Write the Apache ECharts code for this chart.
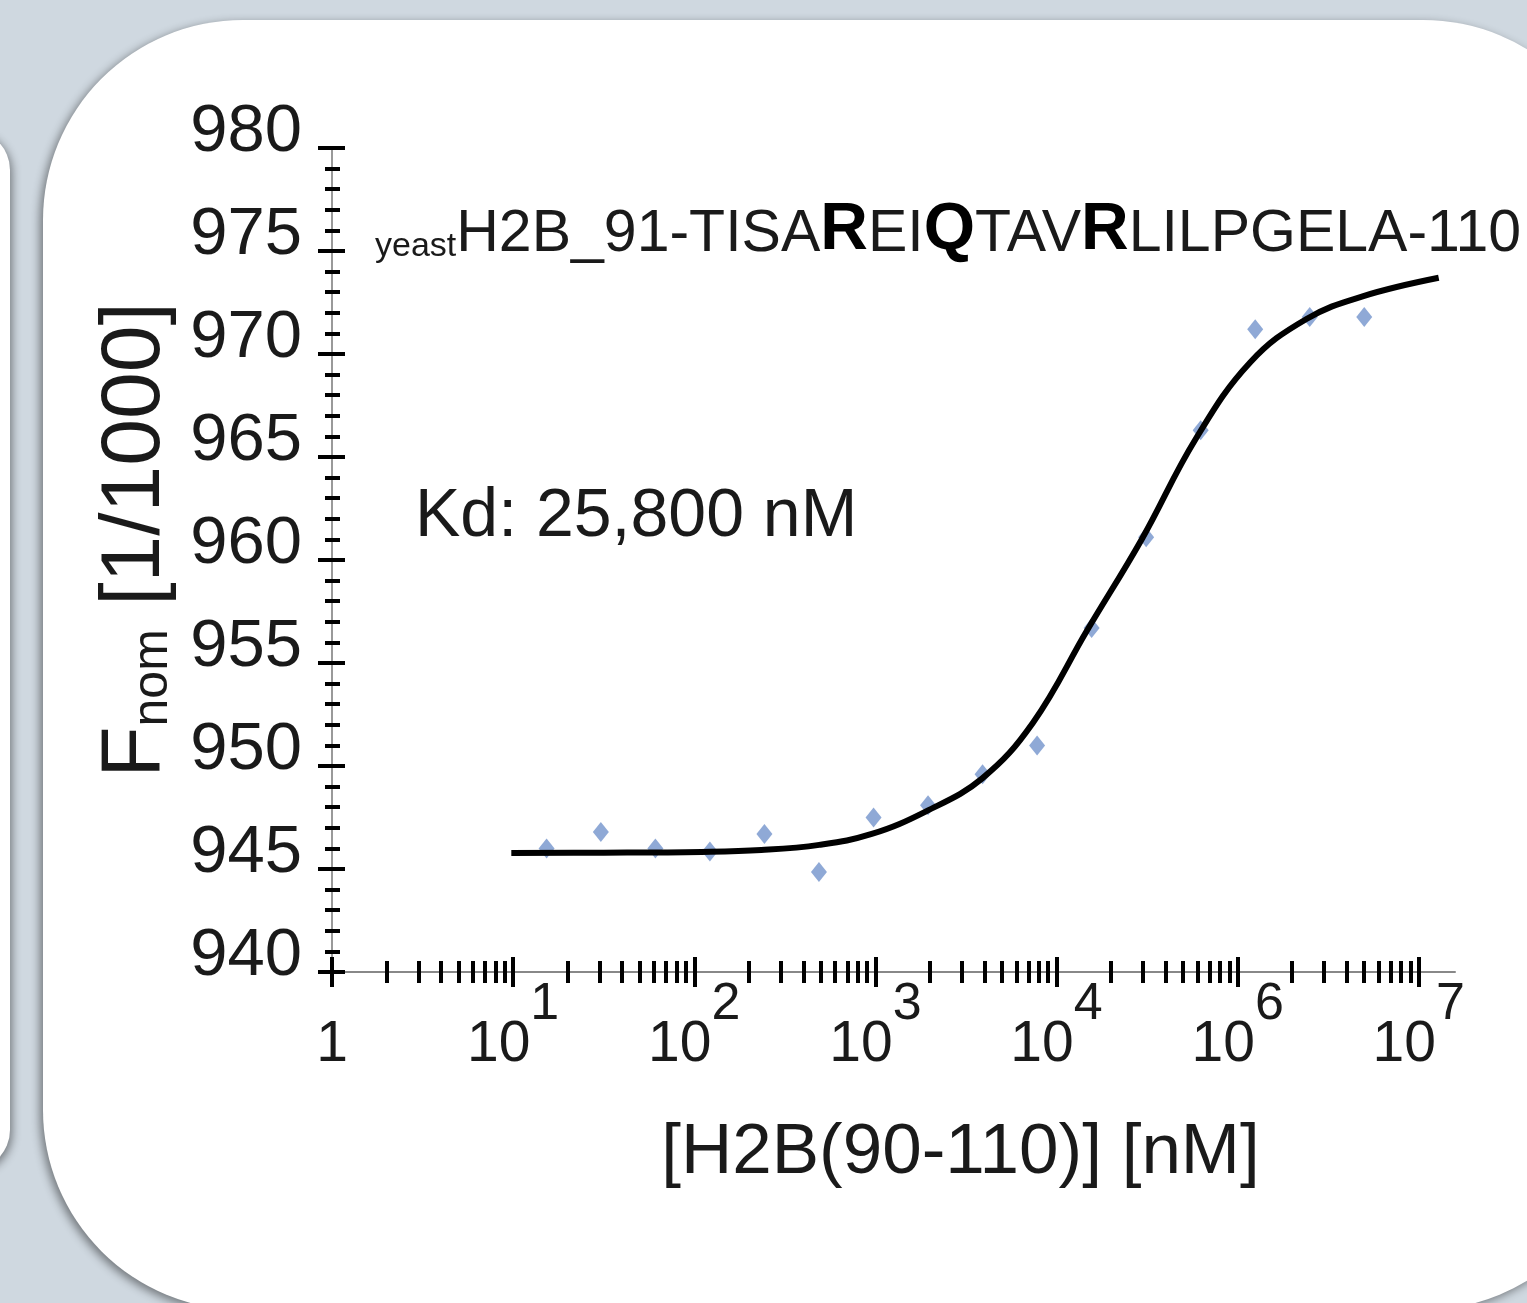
<!DOCTYPE html>
<html>
<head>
<meta charset="utf-8">
<script src="https://cdn.jsdelivr.net/npm/echarts@6/dist/echarts.min.js"></script>
<style>
  html, body { margin: 0; padding: 0; background: #cfd8e0; }
  #chart { width: 1527px; height: 1303px; }
</style>
</head>
<body>
<div id="chart"></div>
<script>
    // MST binding curve, yeast H2B 91-110
    var concNM = [15.3, 30.5, 61, 122, 244, 488, 977, 1953, 3906, 7813, 15625, 31250, 62500, 125000, 250000, 500000];
    var fnorm = [946.0, 946.8, 946.0, 945.85, 946.7, 944.85, 947.5, 948.1, 949.6, 951.0, 956.7, 961.1, 966.3, 971.2, 971.8, 971.8];

    // fitted curve, x as log10 of concentration
    var fitLogConc = [0.99, 1.5, 2.04, 2.37, 2.69, 2.98, 3.28, 3.59, 3.87, 4.17, 4.47, 4.77, 5.07, 5.38, 5.69, 6.11];
    var fitValue = [945.78, 945.79, 945.83, 945.92, 946.17, 946.7, 947.8, 949.4, 952.1, 956.6, 961.0, 965.9, 969.6, 971.7, 972.8, 973.7];

    var decadeTicks = [0, 1, 2, 3, 4, 5, 6];
    var decadeLabels = ['{b|1}', '{b|10}{s|1}', '{b|10}{s|2}', '{b|10}{s|3}', '{b|10}{s|4}', '{b|10}{s|6}', '{b|10}{s|7}'];

    var FONT = 'Liberation Sans, Arial, sans-serif';
    var INK = '#1a1a1a';

    var minorTicks = [];
    for (var d = 0; d < 6; d++) {
        for (var k = 2; k < 10; k++) minorTicks.push(d + Math.log10(k));
    }

    var chart = echarts.init(document.getElementById('chart'));

    function xAxisBase(extra) {
        var ax = {
            type: 'value', position: 'bottom', min: 0, max: 6.2,
            axisLine: {onZero: false, show: false},
            splitLine: {show: false},
            axisLabel: {show: false},
            axisTick: {show: false}
        };
        return Object.assign(ax, extra);
    }

    var option = {
        backgroundColor: 'transparent',
        animation: false,
        graphic: [
            {type: 'rect', z: -10, shape: {x: -300, y: 130, width: 310, height: 1040, r: 40},
                style: {fill: '#fff', shadowBlur: 10, shadowOffsetX: 2, shadowOffsetY: 3, shadowColor: 'rgba(0,0,0,0.45)'}},
            {type: 'rect', z: -10, shape: {x: 43, y: 20, width: 1580, height: 1290, r: 200},
                style: {fill: '#fff', shadowBlur: 10, shadowOffsetX: -3, shadowOffsetY: 3, shadowColor: 'rgba(0,0,0,0.45)'}}
        ],
        title: [
            {
                text: '{s|yeast}{n|H2B_91-TISA}{b|R}{n|EI}{b|Q}{n|TAV}{b|R}{n|LILPGELA-110}',
                left: 370, top: 197,
                textStyle: {
                    fontWeight: 'normal',
                    rich: {
                        s: {fontSize: 34, fontFamily: FONT, fontWeight: 'normal', color: INK, lineHeight: 22, verticalAlign: 'bottom'},
                        n: {fontSize: 59, fontFamily: FONT, fontWeight: 'normal', color: INK, lineHeight: 58, verticalAlign: 'bottom'},
                        b: {fontSize: 66, fontFamily: FONT, fontWeight: 'bold', color: '#000', lineHeight: 62, verticalAlign: 'bottom'}
                    }
                }
            },
            {
                text: 'Kd: 25,800 nM',
                left: 410, top: 478,
                textStyle: {fontSize: 68, fontFamily: FONT, color: INK, fontWeight: 'normal'}
            }
        ],
        grid: {left: 332, right: 72, top: 148, bottom: 331, containLabel: false},
        xAxis: [
            xAxisBase({
                axisLine: {onZero: false, show: true, lineStyle: {color: '#888', width: 2}},
                axisTick: {show: true, customValues: decadeTicks, length: 15, lineStyle: {color: '#000', width: 4}},
                axisLabel: {
                    show: true, customValues: decadeTicks, margin: 7,
                    formatter: function (v) { return decadeLabels[Math.round(v)]; },
                    rich: {
                        b: {fontSize: 57, fontFamily: FONT, color: INK, lineHeight: 56, padding: [76, 0, 0, 0]},
                        s: {fontSize: 52, fontFamily: FONT, color: INK, lineHeight: 56, verticalAlign: 'top'}
                    }
                },
                name: '[H2B(90-110)] [nM]',
                nameLocation: 'middle', nameGap: 146,
                nameTextStyle: {fontSize: 71, fontFamily: FONT, color: INK, padding: [0, 0, 0, 134]}
            }),
            xAxisBase({axisTick: {show: true, inside: true, customValues: decadeTicks, length: 15, lineStyle: {color: '#000', width: 4}}}),
            xAxisBase({axisTick: {show: true, customValues: minorTicks, length: 11, lineStyle: {color: '#000', width: 4}}}),
            xAxisBase({axisTick: {show: true, inside: true, customValues: minorTicks, length: 11, lineStyle: {color: '#000', width: 4}}})
        ],
        yAxis: [
            {
                type: 'value', position: 'left', min: 940, max: 980, interval: 5,
                axisLine: {show: true, lineStyle: {color: '#999', width: 2}},
                axisTick: {show: true, length: 14, lineStyle: {color: '#000', width: 4}},
                minorTick: {show: true, splitNumber: 5, length: 7, lineStyle: {color: '#000', width: 4}},
                splitLine: {show: false},
                axisLabel: {margin: 30, fontSize: 67, fontFamily: FONT, color: INK, verticalAlign: 'bottom', lineHeight: 30},
                name: '{n|F}{sub|nom}{n| [1/1000]}',
                nameLocation: 'middle', nameRotate: 90, nameGap: 154,
                nameTextStyle: {
                    padding: [0, 0, 0, 40],
                    rich: {
                        n: {fontSize: 84, fontFamily: FONT, color: INK, lineHeight: 80, verticalAlign: 'bottom'},
                        sub: {fontSize: 50, fontFamily: FONT, color: INK, lineHeight: 30, verticalAlign: 'bottom'}
                    }
                }
            },
            {
                type: 'value', position: 'left', min: 940, max: 980, interval: 5,
                axisLine: {show: false},
                axisTick: {show: true, inside: true, length: 13, lineStyle: {color: '#000', width: 4}},
                minorTick: {show: true, splitNumber: 5, length: 8, lineStyle: {color: '#000', width: 4}},
                splitLine: {show: false},
                axisLabel: {show: false}
            }
        ],
        series: [
            {
                name: 'data',
                type: 'scatter',
                xAxisIndex: 0, yAxisIndex: 0,
                symbol: 'diamond',
                symbolSize: [16, 20],
                itemStyle: {color: '#7393cc'},
                z: 2,
                data: concNM.map(function (c, i) { return [Math.log10(c), fnorm[i]]; })
            },
            {
                name: 'fit',
                type: 'line',
                xAxisIndex: 0, yAxisIndex: 0,
                smooth: 0.4,
                showSymbol: false,
                lineStyle: {color: '#000', width: 6},
                z: 3,
                data: fitLogConc.map(function (x, i) { return [x, fitValue[i]]; })
            }
        ]
    };
    chart.setOption(option);
</script>
</body>
</html>
